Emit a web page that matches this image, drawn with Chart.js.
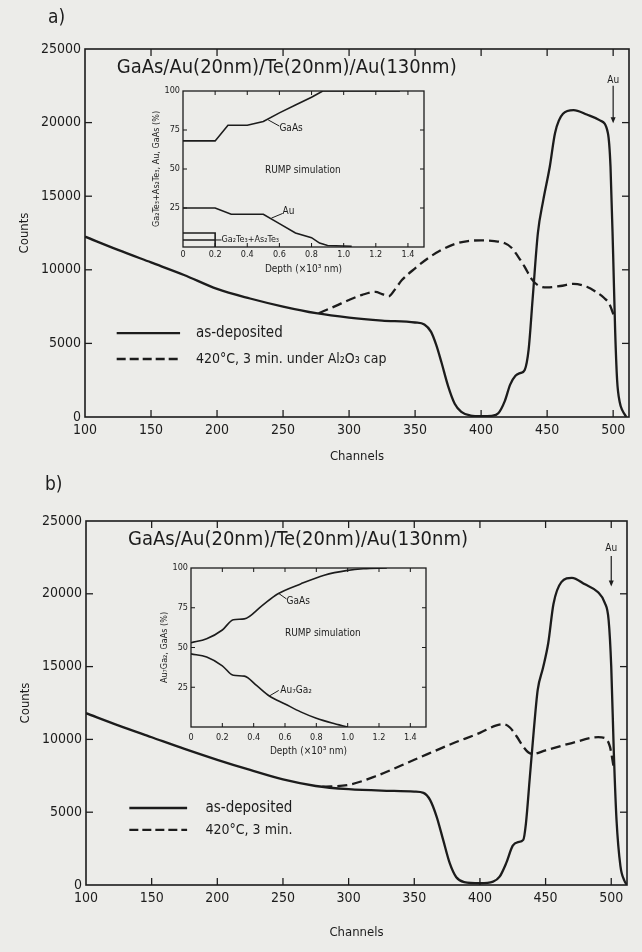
<!DOCTYPE html>
<html>
<head>
<meta charset="utf-8">
<script src="https://cdn.jsdelivr.net/npm/chart.js@4.4.1/dist/chart.umd.min.js"></script>
<style>
body { margin: 0; background: #ecece9; }
#page { position: relative; width: 642px; height: 952px; }
canvas { position: absolute; }
</style>
</head>
<body>
<div id="page">
  <canvas id="mainA" width="642" height="470" style="left:0;top:0"></canvas>
  <canvas id="mainB" width="642" height="482" style="left:0;top:470px"></canvas>
  <canvas id="insetA" width="290" height="200" style="left:140px;top:80px"></canvas>
  <canvas id="insetB" width="290" height="205" style="left:148px;top:557px"></canvas>
</div>
<script>
// ---- data ----
// panel a) main spectrum
const chanA     = [100,125,150,175,200,225,250,275,300,325,350,357,362,366,370,375,380,385,392,400,408,413,418,422,426,430,433,436,439,443,447,452,456,462,470,480,490,496,498,500,501.5,503,505,507,510];
const depositA  = [12250,11350,10500,9650,8700,8050,7500,7050,6750,6550,6420,6280,5800,4900,3700,2100,900,350,100,50,80,250,1100,2200,2800,3000,3200,4600,8000,12500,14700,17000,19300,20600,20850,20550,20150,19300,17000,11000,5900,2500,1000,450,0];
const annChanA  = [277,290,300,310,320,325,330,335,340,350,360,370,380,390,400,410,418,423,428,433,438,443,450,460,470,480,487,493,497,500.5];
const annealA   = [7050,7550,7950,8300,8500,8350,8200,8700,9300,10100,10800,11350,11750,11950,12000,11950,11800,11500,10900,10200,9400,8950,8800,8900,9050,8850,8500,8100,7700,6900];

// panel b) main spectrum
const chanB     = [100,125,150,175,200,225,250,275,300,325,350,357,362,367,372,377,382,388,400,410,415,420,425,429,433,435,438,441,444,448,452,456,462,470,480,490,495,498,500,502,504,507,510,512];
const depositB  = [11800,10950,10150,9350,8600,7900,7250,6800,6580,6480,6420,6330,5850,4700,3100,1500,530,200,120,230,570,1500,2700,2950,3100,4200,7400,10600,13400,14900,16600,19300,20800,21100,20650,20100,19400,18200,15000,9000,4500,1300,300,0];
const annChanB  = [280,300,320,350,380,400,412,418,423,428,433,437,440,450,470,490,495,499,502];
const annealB   = [6750,6880,7450,8600,9750,10450,10950,11050,10800,10200,9500,9100,9000,9250,9750,10150,10100,9500,8000];

// inset a) RUMP simulation
const gaAsDepthA = [0,0.2,0.28,0.4,0.5,0.6,0.7,0.8,0.87,1.35];
const gaAsA      = [68,68,78,78,80.5,86,91,96,100,100];
const auDepthA   = [0,0.2,0.3,0.5,0.6,0.7,0.8,0.85,0.9,1.05];
const auA        = [25,25,21,21,15,9,6,2.5,1,0.5];
const teTopDepthA = [0,0.2,0.2];
const teTopA      = [9,9,0];
const teMidDepthA = [0,0.2];
const teMidA      = [4.5,4.5];

// inset b) RUMP simulation
const gaAsDepthB = [0,0.1,0.2,0.27,0.34,0.45,0.55,0.7,0.85,1.0,1.1,1.25];
const gaAsB      = [53,55.5,61,67.5,68,76,83.5,90,95.5,98.5,99.5,100];
const auGaDepthB = [0,0.1,0.2,0.27,0.34,0.42,0.5,0.6,0.7,0.8,0.9,1.0];
const auGaB      = [46,44,38.5,32.5,32,26,19.5,14.5,9.5,5.5,2.5,0];

// ticks
const mainXTicks  = [100,150,200,250,300,350,400,450,500];
const mainYTicks  = [0,5000,10000,15000,20000,25000];
const insetXTicks = [0,0.2,0.4,0.6,0.8,1.0,1.2,1.4];
const insetYTicks = [25,50,75,100];

const INK = '#1c1c1c';
const FONT = '"DejaVu Sans Condensed", "Liberation Sans Narrow", "DejaVu Sans", sans-serif';
Chart.defaults.font.family = FONT;
Chart.defaults.color = INK;

function pts(xs, ys) { return xs.map((x, i) => ({x: x, y: ys[i]})); }

function seg(ctx, x1, y1, x2, y2) {
  ctx.beginPath(); ctx.moveTo(x1, y1); ctx.lineTo(x2, y2); ctx.stroke();
}

// frame, inward ticks, legend samples, labels, arrows
const decor = {
  id: 'decor',
  afterDatasetsDraw(chart, args, o) {
    const ctx = chart.ctx, a = chart.chartArea;
    const sx = chart.scales.x, sy = chart.scales.y;
    const px = v => sx.getPixelForValue(v), py = v => sy.getPixelForValue(v);
    ctx.save();
    ctx.strokeStyle = INK; ctx.fillStyle = INK;
    ctx.lineWidth = o.frame;
    ctx.strokeRect(a.left, a.top, a.right - a.left, a.bottom - a.top);
    ctx.lineWidth = o.frame * 0.8;
    o.xTicks.forEach(v => {
      const x = px(v);
      if (x <= a.left + 1) return;
      seg(ctx, x, a.bottom, x, a.bottom - o.tick);
      seg(ctx, x, a.top, x, a.top + o.tick);
    });
    o.yTicks.forEach(v => {
      const y = py(v);
      if (y <= a.top + 1 || y >= a.bottom - 1) return;
      seg(ctx, a.left, y, a.left + o.tick, y);
      seg(ctx, a.right, y, a.right - o.tick, y);
    });
    (o.lines || []).forEach(l => {
      ctx.lineWidth = l.w; ctx.setLineDash(l.dash || []);
      seg(ctx, px(l.x1), py(l.y1), px(l.x2), py(l.y2));
    });
    ctx.setLineDash([]);
    (o.arrows || []).forEach(r => {
      const x = px(r.x), y1 = py(r.y1), y2 = py(r.y2);
      ctx.lineWidth = 1.2;
      seg(ctx, x, y1, x, y2 - 5);
      ctx.beginPath(); ctx.moveTo(x - 2.5, y2 - 6); ctx.lineTo(x + 2.5, y2 - 6); ctx.lineTo(x, y2); ctx.closePath(); ctx.fill();
    });
    (o.texts || []).forEach(t => {
      ctx.font = t.font + ' ' + FONT;
      ctx.textAlign = t.align || 'left';
      ctx.textBaseline = 'middle';
      const x = t.px != null ? t.px : px(t.x);
      const y = t.py != null ? t.py : py(t.y);
      ctx.fillText(t.text, x, y);
    });
    ctx.restore();
  }
};

function mainChart(id, dep, ann, chans, annChans, pad, xh, deco) {
  return new Chart(document.getElementById(id), {
    type: 'line',
    data: {
      datasets: [
        {data: pts(chans, dep), borderColor: INK, borderWidth: 2.3, pointRadius: 0, cubicInterpolationMode: 'monotone'},
        {data: pts(annChans, ann), borderColor: INK, borderWidth: 2.3, borderDash: [10, 5], pointRadius: 0, cubicInterpolationMode: 'monotone'}
      ]
    },
    options: {
      responsive: false, animation: false,
      layout: {padding: pad},
      plugins: {legend: {display: false}, tooltip: {enabled: false}, decor: deco},
      scales: {
        x: {
          type: 'linear', min: 100, max: 512,
          afterBuildTicks: s => { s.ticks = mainXTicks.map(v => ({value: v})); },
          afterFit: s => { s.height = xh; },
          grid: {display: false, drawTicks: false}, border: {display: false},
          ticks: {font: {size: 14}, padding: 5, maxRotation: 0, autoSkip: false, callback: v => String(v)},
          title: {display: true, text: 'Channels', font: {size: 13}}
        },
        y: {
          type: 'linear', min: 0, max: 25000,
          afterBuildTicks: s => { s.ticks = mainYTicks.map(v => ({value: v})); },
          afterFit: s => { s.width = 72; },
          grid: {display: false, drawTicks: false}, border: {display: false},
          ticks: {font: {size: 14}, padding: 4, callback: v => String(v)},
          title: {display: true, text: 'Counts', font: {size: 13}}
        }
      }
    },
    plugins: [decor]
  });
}

mainChart('mainA', depositA, annealA, chanA, annChanA, {left: 13, top: 49, right: 13, bottom: 2}, 51, {
  frame: 1.6, tick: 7, xTicks: mainXTicks, yTicks: mainYTicks,
  lines: [
    {x1: 124, y1: 5700, x2: 172, y2: 5700, w: 2.3},
    {x1: 124, y1: 3940, x2: 172, y2: 3940, w: 2.3, dash: [9, 4]}
  ],
  arrows: [{x: 500, y1: 22500, y2: 19950}],
  texts: [
    {px: 48, py: 18, text: 'a)', font: '19px'},
    {x: 124, y: 23700, text: 'GaAs/Au(20nm)/Te(20nm)/Au(130nm)', font: '20px'},
    {x: 184, y: 5700, text: 'as-deposited', font: '15px'},
    {x: 184, y: 3940, text: '420°C, 3 min. under Al₂O₃ cap', font: '14px'},
    {x: 500, y: 22900, text: 'Au', font: '10px', align: 'center'}
  ]
});

mainChart('mainB', depositB, annealB, chanB, annChanB, {left: 14, top: 51, right: 15, bottom: 8}, 59, {
  frame: 1.6, tick: 7, xTicks: mainXTicks, yTicks: mainYTicks,
  lines: [
    {x1: 133, y1: 5290, x2: 177, y2: 5290, w: 2.3},
    {x1: 133, y1: 3780, x2: 177, y2: 3780, w: 2.3, dash: [9, 4]}
  ],
  arrows: [{x: 500, y1: 22600, y2: 20500}],
  texts: [
    {px: 45, py: 15, text: 'b)', font: '19px'},
    {x: 132, y: 23700, text: 'GaAs/Au(20nm)/Te(20nm)/Au(130nm)', font: '20px'},
    {x: 191, y: 5290, text: 'as-deposited', font: '15px'},
    {x: 191, y: 3780, text: '420°C, 3 min.', font: '14px'},
    {x: 500, y: 23100, text: 'Au', font: '10px', align: 'center'}
  ]
});

function insetChart(id, datasets, pad, yw, xh, labPad, yTitle, deco) {
  return new Chart(document.getElementById(id), {
    type: 'line',
    data: {datasets: datasets},
    options: {
      responsive: false, animation: false,
      layout: {padding: pad},
      plugins: {legend: {display: false}, tooltip: {enabled: false}, decor: deco},
      scales: {
        x: {
          type: 'linear', min: 0, max: 1.5,
          afterBuildTicks: s => { s.ticks = insetXTicks.map(v => ({value: v})); },
          afterFit: s => { s.height = xh; },
          grid: {display: false, drawTicks: false}, border: {display: false},
          ticks: {font: {size: 9}, padding: labPad, maxRotation: 0, autoSkip: false, callback: v => v === 0 ? '0' : v.toFixed(1)},
          title: {display: true, text: 'Depth (×10³ nm)', font: {size: 10}, padding: {top: 2, bottom: 2}}
        },
        y: {
          type: 'linear', min: 0, max: 100,
          afterBuildTicks: s => { s.ticks = insetYTicks.map(v => ({value: v})); },
          afterFit: s => { s.width = yw; },
          grid: {display: false, drawTicks: false}, border: {display: false},
          ticks: {font: {size: 9}, padding: 3, callback: v => String(v)},
          title: {display: true, text: yTitle, font: {size: 9}, padding: {top: 2, bottom: 2}}
        }
      }
    },
    plugins: [decor]
  });
}

const thin = {borderColor: INK, borderWidth: 1.6, pointRadius: 0};

insetChart('insetA', [
  Object.assign({data: pts(gaAsDepthA, gaAsA), tension: 0}, thin),
  Object.assign({data: pts(auDepthA, auA), tension: 0}, thin),
  Object.assign({data: pts(teTopDepthA, teTopA), tension: 0}, thin),
  Object.assign({data: pts(teMidDepthA, teMidA), tension: 0}, thin)
], {left: 9, top: 11, right: 6, bottom: 3}, 34, 30, 2, 'Ga₂Te₃+As₂Te₃, Au, GaAs (%)', {
  frame: 1.3, tick: 4, xTicks: insetXTicks, yTicks: insetYTicks,
  lines: [
    {x1: 0.53, y1: 81.5, x2: 0.6, y2: 77.5, w: 1},
    {x1: 0.55, y1: 18.5, x2: 0.62, y2: 21.5, w: 1},
    {x1: 0.2, y1: 4.5, x2: 0.24, y2: 4.5, w: 1}
  ],
  texts: [
    {x: 0.6, y: 76, text: 'GaAs', font: '10px'},
    {x: 0.51, y: 49, text: 'RUMP simulation', font: '10px'},
    {x: 0.62, y: 22.5, text: 'Au', font: '10px'},
    {x: 0.24, y: 4.5, text: 'Ga₂Te₃+As₂Te₃', font: '9px'}
  ]
});

insetChart('insetB', [
  Object.assign({data: pts(gaAsDepthB, gaAsB), cubicInterpolationMode: 'monotone'}, thin),
  Object.assign({data: pts(auGaDepthB, auGaB), cubicInterpolationMode: 'monotone'}, thin)
], {left: 9, top: 11, right: 12, bottom: 3}, 34, 32, 5, 'Au₇Ga₂, GaAs (%)', {
  frame: 1.3, tick: 4, xTicks: insetXTicks, yTicks: insetYTicks,
  lines: [
    {x1: 0.56, y1: 84, x2: 0.61, y2: 80.5, w: 1},
    {x1: 0.5, y1: 19.5, x2: 0.56, y2: 23, w: 1}
  ],
  texts: [
    {x: 0.61, y: 79, text: 'GaAs', font: '10px'},
    {x: 0.6, y: 59, text: 'RUMP simulation', font: '10px'},
    {x: 0.57, y: 23, text: 'Au₇Ga₂', font: '10px'}
  ]
});
</script>
</body>
</html>
